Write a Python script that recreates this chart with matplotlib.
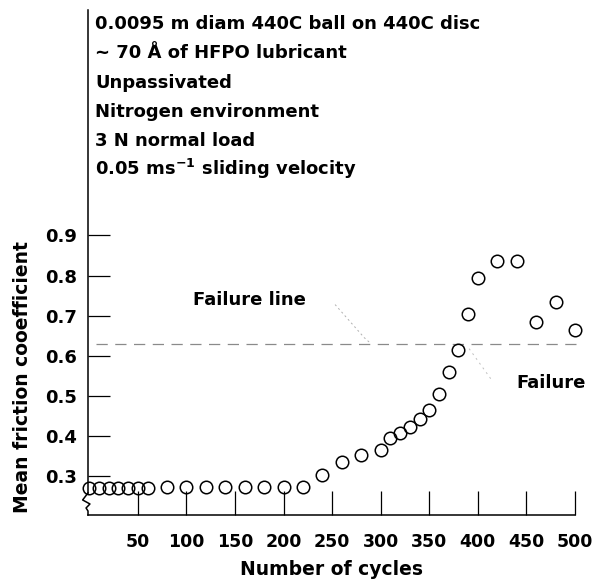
import numpy as np
import matplotlib
matplotlib.use("Agg")
import matplotlib.pyplot as plt

plt.rcParams['font.family'] = ['DejaVu Sans']
plt.rcParams['font.weight'] = 'bold'
plt.rcParams['mathtext.default'] = 'bf'

# Data
cycles = [0, 10, 20, 30, 40, 50, 60, 80, 100, 120, 140, 160, 180, 200, 220,
          240, 260, 280, 300, 310, 320, 330, 340, 350, 360, 370, 380, 390,
          400, 420, 440, 460, 480, 500]
friction = [0.27, 0.27, 0.27, 0.27, 0.27, 0.27, 0.27, 0.272, 0.272, 0.272, 0.272,
            0.272, 0.272, 0.272, 0.272, 0.302, 0.335, 0.352, 0.365, 0.395,
            0.407, 0.423, 0.442, 0.465, 0.505, 0.56, 0.615, 0.705, 0.795,
            0.835, 0.835, 0.685, 0.735, 0.665]
failure_level = 0.63
x_ticks = [50, 100, 150, 200, 250, 300, 350, 400, 450, 500]
y_ticks = [0.3, 0.4, 0.5, 0.6, 0.7, 0.8, 0.9]
conditions = [
    "0.0095 m diam 440C ball on 440C disc",
    "~ 70 Å of HFPO lubricant",
    "Unpassivated",
    "Nitrogen environment",
    "3 N normal load",
    r"0.05 ms$^{-1}$ sliding velocity",
]

W, H = 604, 583
fig = plt.figure(figsize=(W / 100, H / 100), dpi=100)
ax = fig.add_axes([88 / W, 68 / H, 487 / W, 505 / H])

y_lo, y_hi = 0.2025, 1.4625
ax.set_xlim(-1.4, 500)
ax.set_ylim(y_lo, y_hi)

# failure line (faint dashed)
ax.plot([7, 505], [failure_level, failure_level], color='#8a8a8a', lw=0.9,
        dashes=(9, 6), clip_on=False, zorder=1)
ax.plot([253, 283, 289], [0.7275, 0.645, 0.632], color='#b0b0b0', lw=0.7,
        ls=(0, (2, 3)), zorder=1)
ax.plot([391, 414], [0.6175, 0.54], color='#c0c0c0', lw=0.7,
        ls=(0, (2, 4)), zorder=1)

ax.plot(cycles, friction, 'o', ms=9, mfc='none', mec='black', mew=1.1,
        clip_on=False, zorder=3)

# spines
for s in ['top', 'right', 'left']:
    ax.spines[s].set_visible(False)
ax.spines['bottom'].set_linewidth(1.1)

# left spine with break
def py(px):
    return 0.9 + (235 - px) / 400

tr = ax.get_yaxis_transform()
ax.plot([0, 0], [y_hi, py(492)], color='black', lw=1.1, transform=tr, clip_on=False)
ax.plot([0, -0.011, 0.004, -0.004, 0, 0],
        [py(492), py(499), py(503), py(507), py(510), y_lo],
        color='black', lw=1.1, transform=tr, clip_on=False)

ax.set_xticks(x_ticks)
ax.set_yticks(y_ticks)
ax.set_yticklabels([f"{v:.1f}" for v in y_ticks])
ax.tick_params(axis='x', direction='in', length=17, width=0.9, pad=13,
               labelsize=12.5)
ax.tick_params(axis='y', direction='in', length=16, width=0.9, pad=8,
               labelsize=13)

ax.set_xlabel("Number of cycles", fontsize=13.5, fontweight='bold')
ax.xaxis.set_label_coords(0.499, -0.09)
ax.set_ylabel("Mean friction cooefficient", fontsize=13.5, fontweight='bold')
ax.yaxis.set_label_coords(-0.115, 0.273)

for i, line in enumerate(conditions):
    ax.text(5.8, py(29 + 29.2 * i), line, fontsize=13, fontweight='bold',
            ha='left', va='baseline')

ax.text(107, 0.74, "Failure line", fontsize=13, fontweight='bold',
        ha='left', va='center')
ax.text(440, 0.5325, "Failure", fontsize=13, fontweight='bold',
        ha='left', va='center')

fig.savefig("out.png", dpi=100)
